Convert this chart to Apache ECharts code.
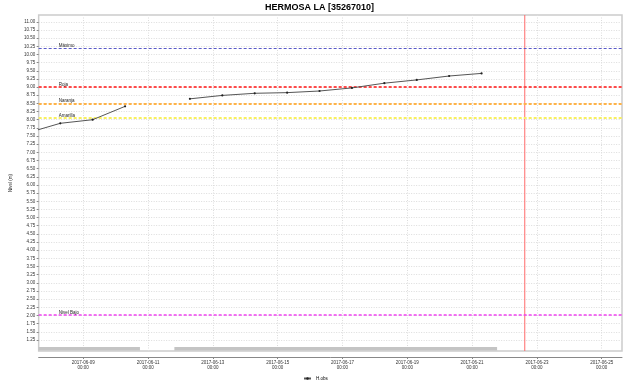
<!DOCTYPE html>
<html><head><meta charset="utf-8">
<script src="https://cdn.jsdelivr.net/npm/echarts@6/dist/echarts.min.js"></script>
<style>html,body{margin:0;padding:0;background:#fff}#c{width:625px;height:388px}</style>
</head><body><div id="c"></div>
<script>
const chartTitle = 'HERMOSA LA [35267010]';
const seriesName = 'H.obs';
const yAxisName = 'Nivel (m)';
const obsTimes = ['2017-06-07 07:00','2017-06-08 07:00','2017-06-09 07:00','2017-06-10 07:00','2017-06-11 07:00',
  '2017-06-12 07:00','2017-06-13 07:00','2017-06-14 07:00','2017-06-15 07:00','2017-06-16 07:00',
  '2017-06-17 07:00','2017-06-18 07:00','2017-06-19 07:00','2017-06-20 07:00','2017-06-21 07:00'];
const obsValues = [7.60, 7.89, 8.00, 8.41, null, 8.64, 8.745, 8.81, 8.83, 8.88, 8.975, 9.12, 9.22, 9.34, 9.42];
const thresholdNames = ['Máximo', 'Roja', 'Naranja', 'Amarilla', 'Nivel Bajo'];
const thresholdValues = [10.2, 9.0, 8.5, 8.05, 2.02];
const nowTime = '2017-06-22 15:00';
const availStart = ['2017-06-07 15:00', '2017-06-11 19:30'];
const availEnd = ['2017-06-10 18:00', '2017-06-21 18:30'];
const xRange = ['2017-06-07 15:00', '2017-06-25 15:00'];
const yRange = [0.91, 11.21];
const xTickLabels = ['2017-06-09 00:00','2017-06-11 00:00','2017-06-13 00:00','2017-06-15 00:00','2017-06-17 00:00',
  '2017-06-19 00:00','2017-06-21 00:00','2017-06-23 00:00','2017-06-25 00:00'];
const yTickLabels = ['1.25','1.50','1.75','2.00','2.25','2.50','2.75','3.00','3.25','3.50','3.75','4.00','4.25','4.50',
  '4.75','5.00','5.25','5.50','5.75','6.00','6.25','6.50','6.75','7.00','7.25','7.50','7.75','8.00','8.25','8.50',
  '8.75','9.00','9.25','9.50','9.75','10.00','10.25','10.50','10.75','11.00'];

function ts(s) {
  const m = s.match(/(\d+)-(\d+)-(\d+) (\d+):(\d+)/);
  return new Date(+m[1], +m[2] - 1, +m[3], +m[4], +m[5]).getTime();
}
function pad(n) { return (n < 10 ? '0' : '') + n; }

const thresholdStyles = [
  {color: '#5a5ac8', width: 1, type: [3, 2]},
  {color: '#ff4a4a', width: 2, type: [3, 2]},
  {color: '#ffb347', width: 2, type: [3, 2]},
  {color: '#f8f060', width: 2, type: [3, 2]},
  {color: '#f040f0', width: 1.5, type: [3, 2]}
];

const FONT = 'Liberation Sans, Arial, sans-serif';
const gridLine = {show: true, lineStyle: {color: '#dcdcdc', width: 1, type: [1, 1.5]}};

const chart = echarts.init(document.getElementById('c'), null, {renderer: 'canvas'});
chart.setOption({
  animation: false,
  backgroundColor: '#fff',
  title: {
    text: chartTitle, left: 265, top: 3.5, padding: 0,
    textStyle: {fontSize: 9, fontWeight: 'bold', color: '#000', fontFamily: FONT}
  },
  legend: {
    data: [seriesName], left: 303, top: 376, padding: 0, itemWidth: 7, itemHeight: 3,
    textStyle: {fontSize: 4.5, color: '#000', fontFamily: FONT}
  },
  grid: {left: 38, right: 3, top: 15, bottom: 37, show: true, borderColor: '#cccccc', borderWidth: 1.5, containLabel: false},
  xAxis: {
    type: 'value', min: ts(xRange[0]), max: ts(xRange[1]), offset: 6,
    axisLine: {show: true, lineStyle: {color: '#888', width: 1}},
    axisTick: {show: true, length: 2, lineStyle: {color: '#888'}, customValues: xTickLabels.map(ts)},
    axisLabel: {
      customValues: xTickLabels.map(ts), fontSize: 4.5, lineHeight: 5, margin: 3, color: '#333', fontFamily: FONT,
      formatter: function (v) {
        const d = new Date(v);
        return d.getFullYear() + '-' + pad(d.getMonth() + 1) + '-' + pad(d.getDate()) + '\n' + pad(d.getHours()) + ':' + pad(d.getMinutes());
      }
    },
    splitLine: gridLine
  },
  yAxis: {
    type: 'value', min: yRange[0], max: yRange[1],
    name: yAxisName, nameLocation: 'middle', nameRotate: 90, nameGap: 20,
    nameTextStyle: {fontSize: 4.5, color: '#333', fontFamily: FONT},
    axisLine: {show: false},
    axisTick: {show: true, length: 2, lineStyle: {color: '#888'}, customValues: yTickLabels.map(Number)},
    axisLabel: {
      customValues: yTickLabels.map(Number), fontSize: 4.5, margin: 3.5, color: '#333', fontFamily: FONT,
      formatter: function (v) { return Number(v).toFixed(2); }
    },
    splitLine: gridLine
  },
  series: [
    {
      name: seriesName, type: 'line', clip: true, connectNulls: false,
      data: obsTimes.map((t, i) => [ts(t), obsValues[i]]),
      lineStyle: {color: '#555', width: 1},
      itemStyle: {color: '#222'},
      symbol: 'circle', symbolSize: 2.2, showSymbol: true,
      markLine: {
        silent: true, symbol: 'none', animation: false,
        data: thresholdValues.map((v, i) => ({
          yAxis: v, name: thresholdNames[i],
          lineStyle: thresholdStyles[i],
          label: {show: true, formatter: thresholdNames[i], position: 'insideStartTop', distance: [20, 0],
            fontSize: 4.5, color: '#222', fontFamily: FONT}
        }))
      },
      z: 5
    },
    {
      name: 'ahora', type: 'line', silent: true, symbol: 'none',
      data: [[ts(nowTime), yRange[0]], [ts(nowTime), yRange[1]]],
      lineStyle: {color: '#ff6a6a', width: 1, type: 'solid'},
      itemStyle: {color: '#ff6a6a'},
      z: 4
    },
    {
      name: 'disponibilidad', type: 'custom',
      data: availStart.map((s, i) => [ts(s), ts(availEnd[i])]),
      encode: {x: [0, 1]},
      itemStyle: {color: '#c4c4c4'},
      renderItem: function (params, api) {
        const p1 = api.coord([api.value(0), yRange[0]]);
        const p2 = api.coord([api.value(1), yRange[0]]);
        return {type: 'rect', shape: {x: p1[0], y: p1[1] - 4, width: p2[0] - p1[0], height: 3.5}, style: {fill: '#c4c4c4'}};
      },
      z: 3
    }
  ]
});
</script>
</body></html>
